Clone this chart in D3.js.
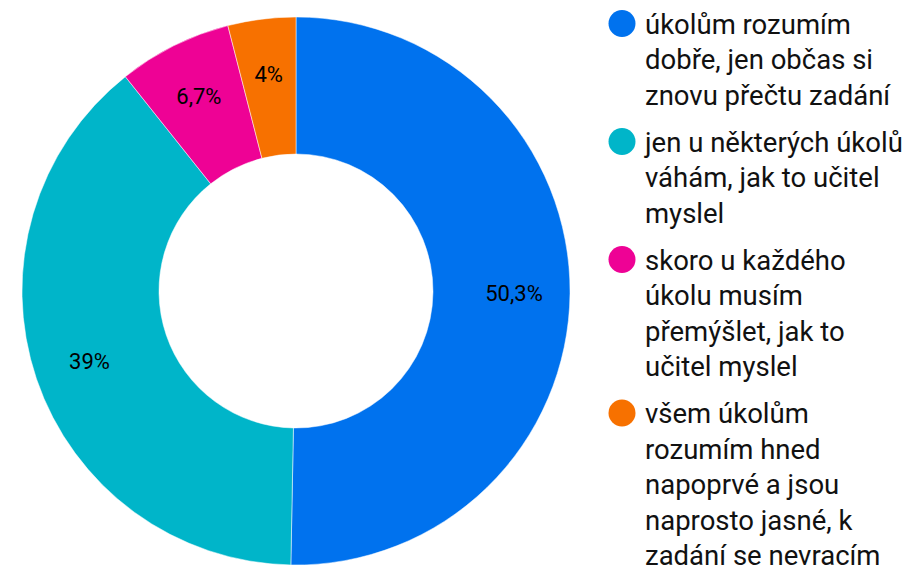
<!DOCTYPE html>
<html>
  <head>
    <meta charset="utf-8">
    <title></title>
  </head>
  <style>
  body{
      font-family: "Roboto";
      background-color: #fff;
      margin:0;
      padding:0
  }
  .label{
      font-size: 22px;
      fill: #000
  }
  .legend text{
      font-size: 27.5px;
      fill: #111
  }
  </style>
  <script src="https://d3js.org/d3.v7.min.js"></script>
  <body>
    <script>
    // data
    const categories = [
        "úkolům rozumím dobře, jen občas si znovu přečtu zadání",
        "jen u některých úkolů váhám, jak to učitel myslel",
        "skoro u každého úkolu musím přemýšlet, jak to učitel myslel",
        "všem úkolům rozumím hned napoprvé a jsou naprosto jasné, k zadání se nevracím"
    ]
    const values = [50.3, 39, 6.7, 4]
    const valueLabels = ["50,3%", "39%", "6,7%", "4%"]
    const colors = ["#0072EE", "#00B5C9", "#EE0295", "#F77100"]

    var width = 908
    var height = 569

    var cx = 296, cy = 291
    var outerR = 274, innerR = 137

    var svg = d3.select("body")
                .append("svg")
                .attr("width", width)
                .attr("height", height)

    var pie = d3.pie().sort(null).value(function(d){ return d })
    var arcs = pie(values)

    var arc = d3.arc().innerRadius(innerR).outerRadius(outerR)
    var labelArc = d3.arc().innerRadius(218).outerRadius(218)

    var g = svg.append("g")
               .attr("transform", "translate(" + cx + "," + cy + ")")

    g.selectAll("path")
     .data(arcs)
     .enter()
     .append("path")
     .attr("d", arc)
     .attr("fill", function(d, i){ return colors[i] })
     .attr("stroke", "#fff")
     .attr("stroke-width", 0.5)

    g.selectAll("text")
     .data(arcs)
     .enter()
     .append("text")
     .attr("class", "label")
     .attr("transform", function(d){ return "translate(" + labelArc.centroid(d) + ")" })
     .attr("text-anchor", "middle")
     .attr("dy", "0.35em")
     .text(function(d, i){ return valueLabels[i] })

    // legend
    var lineH = 35.5, gap = 11.5, maxW = 264
    var legend = svg.append("g").attr("class", "legend")
    var y = 23.5
    categories.forEach(function(cat, i){
        var item = legend.append("g")
        item.append("circle")
            .attr("cx", 622)
            .attr("cy", y)
            .attr("r", 13.5)
            .attr("fill", colors[i])

        var words = cat.split(" ")
        var lines = []
        var cur = ""
        var probe = item.append("text")
        words.forEach(function(w){
            var test = cur ? cur + " " + w : w
            probe.text(test)
            if (probe.node().getComputedTextLength() > maxW && cur) {
                lines.push(cur)
                cur = w
            } else {
                cur = test
            }
        })
        lines.push(cur)
        probe.remove()

        var t = item.append("text")
        lines.forEach(function(l, j){
            t.append("tspan")
             .attr("x", 645)
             .attr("y", y + j * lineH)
             .attr("dy", "0.37em")
             .text(l)
        })
        y += lines.length * lineH + gap
    })
    </script>
  </body>
</html>
